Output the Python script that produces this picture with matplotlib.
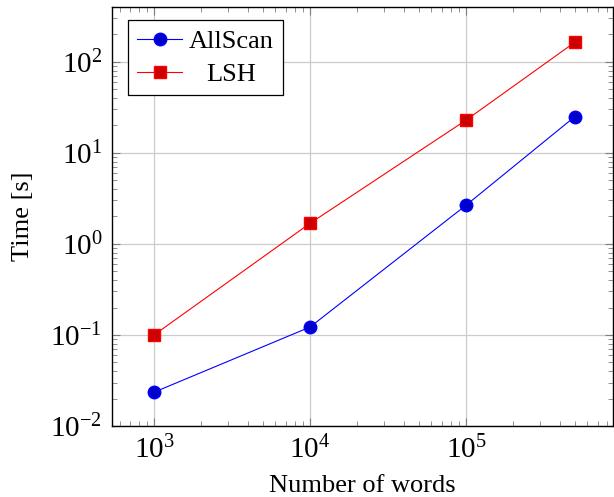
import matplotlib
matplotlib.use("Agg")
import matplotlib.pyplot as plt
from matplotlib.ticker import LogLocator, NullFormatter

words = [1e3, 1e4, 1e5, 5e5]
allscan = [0.0235, 0.122, 2.65, 25.0]
lsh = [0.1, 1.68, 22.8, 164.0]
series_names = ["AllScan", "LSH"]

plt.rcParams['font.family'] = ['Liberation Serif', 'DejaVu Serif']
plt.rcParams['mathtext.fontset'] = 'cm'

fig = plt.figure(figsize=(6.14, 4.97), dpi=100)
ax = fig.add_axes([0.1824, 0.1429, 0.8156, 0.8431])

ax.plot(words, allscan, color='#0000ff', lw=0.8, marker='o', ms=9,
        markerfacecolor='#0000cc', markeredgecolor='#0000ff', label=series_names[0], zorder=3)
ax.plot(words, lsh, color='#ff0000', lw=0.8, marker='s', ms=8.5,
        markerfacecolor='#cc0000', markeredgecolor='#ff0000', label=series_names[1], zorder=3)

ax.set_xscale('log')
ax.set_yscale('log')
ax.set_xlim(537, 875000)
ax.set_ylim(0.01, 400)

ax.xaxis.set_major_locator(LogLocator(base=10, numticks=10))
ax.yaxis.set_major_locator(LogLocator(base=10, numticks=10))
ax.xaxis.set_minor_locator(LogLocator(base=10, subs=range(2, 10), numticks=20))
ax.yaxis.set_minor_locator(LogLocator(base=10, subs=range(2, 10), numticks=20))
ax.xaxis.set_minor_formatter(NullFormatter())
ax.yaxis.set_minor_formatter(NullFormatter())

ax.grid(True, which='major', color='#cccccc', lw=0.9)
ax.set_axisbelow(True)
ax.tick_params(which='both', direction='in', top=True, right=True, labelsize=21, color='#7f7f7f')
ax.tick_params(which='major', length=6, width=0.8, pad=7)
ax.tick_params(which='minor', length=3.5, width=0.6)
for s in ax.spines.values():
    s.set_linewidth(1.0)

ax.set_xlabel('Number of words', fontsize=19, labelpad=8)
ax.set_ylabel('Time [s]', fontsize=19, labelpad=12)

leg = ax.legend(loc='upper left', fontsize=19, frameon=True, fancybox=False,
                edgecolor='black', framealpha=1, handlelength=1.7, borderpad=0.35,
                labelspacing=0.35, handletextpad=0.25, borderaxespad=0,
                bbox_to_anchor=(0.032, 0.968))
leg.get_frame().set_linewidth(0.9)

# center legend labels within the text column (pgfplots style)
fig.canvas.draw()
renderer = fig.canvas.get_renderer()
texts = leg.get_texts()
widths = [t.get_window_extent(renderer).width for t in texts]
wmax = max(widths)
for t, w in zip(texts, widths):
    t.set_x((wmax - w) / 2.0)

fig.savefig('out.png', dpi=100)
